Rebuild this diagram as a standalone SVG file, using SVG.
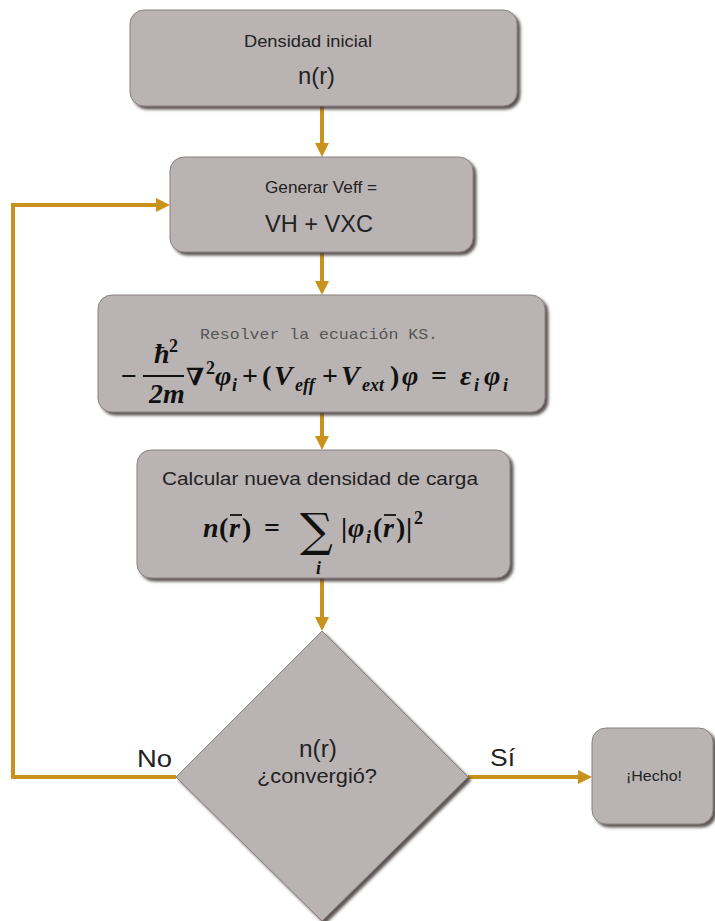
<svg xmlns="http://www.w3.org/2000/svg" width="715" height="921" viewBox="0 0 715 921">
<style>
.box{fill:#bab3b3;stroke:#8a8080;stroke-width:1;filter:url(#sh)}
.sans{font-family:"Liberation Sans",Arial,sans-serif;fill:#222}
.mono{font-family:"Liberation Mono","Courier New",monospace;fill:#555}
.m{font-family:"Liberation Serif","DejaVu Serif",serif;font-style:italic;font-weight:bold;fill:#111;font-size:28px}
.u{font-family:"Liberation Serif","DejaVu Serif",serif;font-weight:bold;fill:#111;font-size:28px}
.s{font-family:"Liberation Serif","DejaVu Serif",serif;font-style:italic;font-weight:bold;fill:#111;font-size:18px}
.su{font-family:"Liberation Serif","DejaVu Serif",serif;font-weight:bold;fill:#111;font-size:18px}
.conn{fill:none;stroke:#c8921c;stroke-width:4;marker-end:url(#ah)}
</style>
<defs>
<filter id="sh" x="-10%" y="-10%" width="125%" height="125%">
<feDropShadow dx="3" dy="3" stdDeviation="1.5" flood-color="#3f3636" flood-opacity="0.85"/>
</filter>
<marker id="ah" markerUnits="userSpaceOnUse" markerWidth="16" markerHeight="16" refX="8" refY="8" orient="auto">
<path d="M0,1 L14,8 L0,15 z" fill="#c8921c"/>
</marker>
</defs>
<rect width="715" height="921" fill="#ffffff"/>

<g id="connectors">
<path class="conn" d="M322,106 L322,151"/>
<path class="conn" d="M322,252 L322,289"/>
<path class="conn" d="M322,412 L322,444"/>
<path class="conn" d="M322,578 L322,625"/>
<path class="conn" d="M176,777 L13,777 L13,205 L164,205"/>
<path class="conn" d="M468,777 L586,777"/>
</g>

<g id="n1">
<rect class="box" x="130" y="10" width="387" height="96" rx="14"/>
<text class="sans" x="244" y="47" font-size="17" textLength="128" lengthAdjust="spacingAndGlyphs">Densidad inicial</text>
<text class="sans" x="298" y="84" font-size="24" textLength="37" lengthAdjust="spacingAndGlyphs">n(r)</text>
</g>

<g id="n2">
<rect class="box" x="170" y="157" width="303" height="95" rx="14"/>
<text class="sans" x="265" y="193" font-size="17" fill="#333" textLength="112" lengthAdjust="spacingAndGlyphs">Generar Veff =</text>
<text class="sans" x="265" y="232" font-size="24" textLength="108" lengthAdjust="spacingAndGlyphs">VH + VXC</text>
</g>

<g id="n3">
<rect class="box" x="98" y="295" width="447" height="117" rx="14"/>
<text class="mono" x="200" y="339" font-size="15" textLength="238" lengthAdjust="spacingAndGlyphs">Resolver la ecuación KS.</text>
<text class="u" x="121" y="385">−</text>
<text class="m" x="154" y="363">ħ</text>
<text class="su" x="169" y="352">2</text>
<line x1="143" y1="376" x2="184" y2="376" stroke="#111" stroke-width="2"/>
<text class="m" x="149" y="403">2m</text>
<text font-family="DejaVu Serif, serif" font-size="24" font-weight="bold" fill="#111" x="186" y="385">∇</text>
<text class="su" x="206" y="374">2</text>
<text class="m" x="215" y="385">φ</text>
<text class="s" x="232" y="391">i</text>
<text class="u" x="242" y="385">+</text>
<text class="u" x="262" y="385">(</text>
<text class="m" x="274" y="385">V</text>
<text class="s" x="295" y="391">eff</text>
<text class="u" x="322" y="385">+</text>
<text class="m" x="341" y="385">V</text>
<text class="s" x="362" y="391">ext</text>
<text class="u" x="390" y="385">)</text>
<text class="m" x="402" y="385">φ</text>
<text class="u" x="431" y="385">=</text>
<text class="m" x="460" y="385">ε</text>
<text class="s" x="474" y="391">i</text>
<text class="m" x="484" y="385">φ</text>
<text class="s" x="503" y="391">i</text>
</g>

<g id="n4">
<rect class="box" x="137" y="450" width="373" height="128" rx="14"/>
<text class="sans" x="162" y="485" font-size="17.5" textLength="316" lengthAdjust="spacingAndGlyphs">Calcular nueva densidad de carga</text>
<text class="m" x="203" y="537">n</text>
<text class="u" x="219" y="537">(</text>
<text class="m" x="229" y="537">r</text>
<line x1="230" y1="515" x2="242" y2="515" stroke="#111" stroke-width="1.8"/>
<text class="u" x="242" y="537">)</text>
<text class="u" x="264" y="537">=</text>
<text font-family="DejaVu Serif, serif" font-size="46" fill="#111" x="300" y="546">∑</text>
<text class="s" x="316" y="574">i</text>
<text class="u" x="341" y="537">|</text>
<text class="m" x="348" y="537">φ</text>
<text class="s" x="366" y="543">i</text>
<text class="u" x="373" y="537">(</text>
<text class="m" x="383" y="537">r</text>
<line x1="384" y1="515" x2="396" y2="515" stroke="#111" stroke-width="1.8"/>
<text class="u" x="396" y="537">)</text>
<text class="u" x="406" y="537">|</text>
<text class="su" x="414" y="524">2</text>
</g>

<g id="n5">
<path class="box" d="M322,631 L468,777 L322,921 L176,777 Z"/>
<text class="sans" x="299" y="757" font-size="23" fill="#333" textLength="38" lengthAdjust="spacingAndGlyphs">n(r)</text>
<text class="sans" x="257" y="783" font-size="21" fill="#333" textLength="120" lengthAdjust="spacingAndGlyphs">¿convergió?</text>
</g>

<g id="n6">
<rect class="box" x="592" y="728" width="121" height="96" rx="14"/>
<text class="sans" x="626" y="781" font-size="14" fill="#333" textLength="56" lengthAdjust="spacingAndGlyphs">¡Hecho!</text>
</g>

<g id="labels">
<text class="sans" x="137" y="767" font-size="23" fill="#111" textLength="35" lengthAdjust="spacingAndGlyphs">No</text>
<text class="sans" x="490" y="766" font-size="23" fill="#111" textLength="25" lengthAdjust="spacingAndGlyphs">Sí</text>
</g>
</svg>
